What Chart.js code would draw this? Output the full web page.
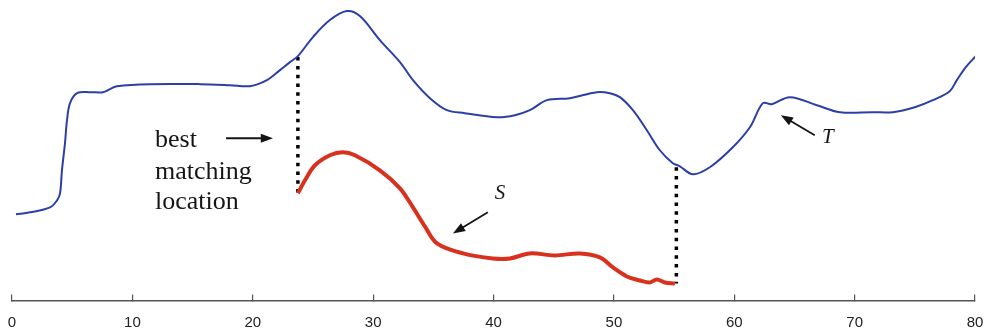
<!DOCTYPE html>
<html>
<head>
<meta charset="utf-8">
<script src="https://cdn.jsdelivr.net/npm/chart.js@4.4.1/dist/chart.umd.min.js"></script>
<style>
  html, body { margin: 0; padding: 0; background: #fff; }
  #wrap { width: 986px; height: 333px; }
</style>
</head>
<body>
<div id="wrap"><canvas id="chart"></canvas></div>
<script>
// Serie larga T (azul)
const tX = [0.33, 1.5, 3.16, 3.74, 3.99, 4.15, 4.4, 4.57, 4.82, 5.4, 6.48, 7.56, 8.14, 8.72, 11.46, 15.61, 18.11, 19.77,
  21.18, 22.26, 23.09, 23.75, 25.0, 26.41, 27.82, 28.9, 30.56, 32.23, 33.31, 34.72, 36.13, 37.62, 40.28, 41.78, 43.02,
  44.44, 46.35, 48.59, 49.67, 50.5, 51.58, 52.74, 53.82, 54.9, 55.48, 56.56, 57.97, 59.88, 61.3, 62.38, 63.12, 64.62,
  66.86, 68.77, 71.51, 73.17, 75.0, 76.5, 77.9, 78.49, 79.24, 80.15];
const tY = [86, 88, 93, 100, 107, 130, 157, 180, 197, 207, 208, 208, 211, 214, 216, 216, 215, 214,
  220, 230, 238, 244, 263, 280, 289, 284, 260, 238, 220, 202, 190, 187, 183, 185, 190,
  200, 202, 208, 207, 203, 190, 170, 150, 137, 134, 126, 133, 153, 173, 197, 196, 203,
  195, 188, 188, 188, 193, 200, 209, 220, 233, 245];

// Consulta S (roja)
const sX = [23.75, 24.34, 25.17, 26.41, 27.49, 28.49, 30.56, 32.23, 33.31, 34.3, 35.3, 37.46, 39.95, 41.36, 43.02,
  45.1, 47.18, 48.84, 49.92, 51.08, 52.16, 52.99, 53.57, 54.24, 55.07];
const sY = [107, 120, 135, 145, 148, 145, 130, 112, 93, 74, 57, 47, 42, 42, 47,
  45, 47, 43, 33, 24, 20, 18, 21, 18, 17];

// Líneas punteadas de coincidencia
const matchX = [23.75, 55.19];
const matchTop = [243, 133];
const matchBottom = [107, 17];

const xTicks = [0, 10, 20, 30, 40, 50, 60, 70, 80];

// Anotaciones (coordenadas de datos)
const noteLines = ['best', 'matching', 'location'];
const noteX = 11.88;
const noteY = [160, 128, 98];
const arrows = [
  { from: [17.78, 162], to: [21.68, 162] },
  { from: [39.53, 88], to: [36.63, 67] },
  { from: [66.69, 165], to: [63.87, 185] }
];
const letters = [
  { text: 'S', x: 40.53, y: 107 },
  { text: 'T', x: 67.77, y: 163 }
];

const toPts = (xs, ys) => xs.map((x, i) => ({ x, y: ys[i] }));

const datasets = [
  {
    data: toPts(tX, tY),
    borderColor: '#2b3fa6',
    borderWidth: 2,
    pointRadius: 0,
    tension: 0.35
  },
  {
    data: toPts(sX, sY),
    borderColor: '#d8321f',
    borderWidth: 4,
    pointRadius: 0,
    tension: 0.35
  }
];
matchX.forEach((x, i) => {
  datasets.push({
    data: [{ x, y: matchTop[i] }, { x, y: matchBottom[i] }],
    borderColor: '#000',
    borderWidth: 3.5,
    borderDash: [3.5, 5.3],
    borderCapStyle: 'butt',
    pointRadius: 0
  });
});

const annotations = {
  id: 'annotations',
  afterDatasetsDraw(chart) {
    const { ctx, scales: { x, y } } = chart;
    ctx.save();
    ctx.fillStyle = '#151515';
    ctx.font = '26px "Liberation Serif"';
    ctx.textAlign = 'left';
    ctx.textBaseline = 'middle';
    noteLines.forEach((t, i) => ctx.fillText(t, x.getPixelForValue(noteX), y.getPixelForValue(noteY[i])));

    ctx.font = 'italic 21px "Liberation Serif"';
    ctx.textAlign = 'center';
    letters.forEach(l => ctx.fillText(l.text, x.getPixelForValue(l.x), y.getPixelForValue(l.y)));

    ctx.strokeStyle = '#151515';
    ctx.lineWidth = 1.8;
    arrows.forEach(a => {
      const x1 = x.getPixelForValue(a.from[0]), y1 = y.getPixelForValue(a.from[1]);
      const x2 = x.getPixelForValue(a.to[0]),   y2 = y.getPixelForValue(a.to[1]);
      const ang = Math.atan2(y2 - y1, x2 - x1);
      const head = 13;
      ctx.beginPath();
      ctx.moveTo(x1, y1);
      ctx.lineTo(x2 - Math.cos(ang) * head * 0.8, y2 - Math.sin(ang) * head * 0.8);
      ctx.stroke();
      ctx.beginPath();
      ctx.moveTo(x2, y2);
      ctx.lineTo(x2 - head * Math.cos(ang - 0.36), y2 - head * Math.sin(ang - 0.36));
      ctx.lineTo(x2 - head * Math.cos(ang + 0.36), y2 - head * Math.sin(ang + 0.36));
      ctx.closePath();
      ctx.fill();
    });
    ctx.restore();
  }
};

new Chart(document.getElementById('chart'), {
  type: 'line',
  data: { datasets },
  options: {
    responsive: true,
    maintainAspectRatio: false,
    animation: false,
    layout: { padding: { left: 12, right: 11, top: 0, bottom: 2.5 } },
    plugins: { legend: { display: false }, tooltip: { enabled: false } },
    scales: {
      x: {
        type: 'linear',
        min: 0,
        max: 80,
        afterBuildTicks: s => { s.ticks = xTicks.map(v => ({ value: v })); },
        afterFit: s => { s.paddingLeft = 0; s.paddingRight = 0; s.height = 30; },
        ticks: {
          color: '#222',
          font: { family: '"Liberation Sans"', size: 15 },
          padding: 19,
          maxRotation: 0
        },
        grid: {
          drawOnChartArea: false,
          drawTicks: true,
          tickLength: -6,
          color: '#555',
          lineWidth: 1.2
        },
        border: { color: '#555', width: 1.5 }
      },
      y: {
        display: false,
        min: 0,
        max: 300
      }
    }
  },
  plugins: [annotations]
});
</script>
</body>
</html>
